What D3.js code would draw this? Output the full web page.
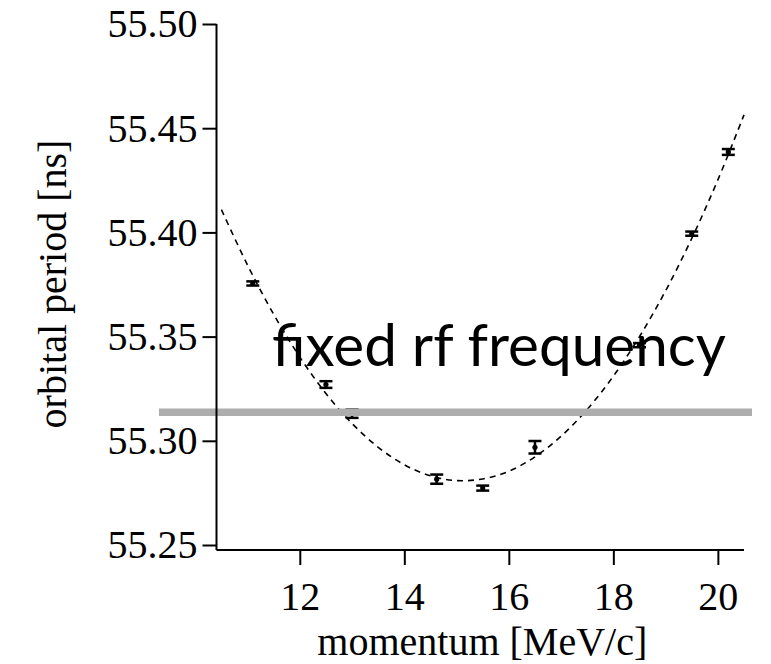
<!DOCTYPE html>
<html>
<head>
<meta charset="utf-8">
<script src="https://cdn.jsdelivr.net/npm/d3@7"></script>
<style>
  html, body { margin: 0; padding: 0; background: #fff; }
  svg { display: block; }
</style>
</head>
<body>
<svg id="chart" width="771" height="664"></svg>
<script>
// ---- data ----
const momentum    = [11.1, 12.5, 13.0, 14.62, 15.5, 16.5, 18.5, 19.5, 20.2];
const period      = [55.3755, 55.327, 55.313, 55.2816, 55.2773, 55.2969, 55.3459, 55.3994, 55.4386];
const periodErr   = [0.0010, 0.0016, 0.0020, 0.0022, 0.0012, 0.0030, 0.0010, 0.0010, 0.0014];

const fitMomentum = [10.5, 11.0, 11.5, 12.0, 12.5, 13.0, 13.5, 14.0, 14.5, 15.0, 15.5,
                     16.0, 16.5, 17.0, 17.5, 18.0, 18.5, 19.0, 19.5, 20.0, 20.5];
const fitPeriod   = [55.4109, 55.3843, 55.3607, 55.3402, 55.3227, 55.3083, 55.2969, 55.2885,
                     55.2832, 55.2809, 55.2817, 55.2854, 55.2923, 55.3022, 55.3151, 55.3310,
                     55.3500, 55.3720, 55.3971, 55.4252, 55.4564];

const rfPeriod    = 55.3137;
const rfLabel     = "fixed rf frequency";

const xTicks      = [12, 14, 16, 18, 20];
const yTicks      = [55.25, 55.30, 55.35, 55.40, 55.45, 55.50];
const xTitle      = "momentum [MeV/c]";
const yTitle      = "orbital period [ns]";

// ---- layout ----
const svg = d3.select("#chart");
const x = d3.scaleLinear().domain([10.406, 20.5]).range([216.5, 744]);
const y = d3.scaleLinear().domain([55.2476, 55.50]).range([550, 24]);
const serif = "'Liberation Serif', 'Times New Roman', serif";

// label text
const lab = svg.append("text")
  .attr("x", 272).attr("y", 366)
  .attr("font-family", "Lato, 'Open Sans', sans-serif")
  .attr("font-size", 60)
  .attr("fill", "#000")
  .text(rfLabel);
const len = lab.node().getComputedTextLength();
lab.attr("font-size", 60 * 454 / len);

// fit curve
const fit = fitMomentum.map((m, i) => [m, fitPeriod[i]]);
svg.append("path")
  .datum(fit)
  .attr("d", d3.line().x(d => x(d[0])).y(d => y(d[1])).curve(d3.curveCatmullRom))
  .attr("fill", "none")
  .attr("stroke", "#000")
  .attr("stroke-width", 1.6)
  .attr("stroke-dasharray", "6,5");

// data with error bars
const pts = momentum.map((m, i) => ({m, p: period[i], e: periodErr[i]}));
const g = svg.append("g");
const capW = 6.5;
pts.forEach(d => {
  const cx = x(d.m);
  g.append("line").attr("x1", cx).attr("x2", cx)
    .attr("y1", y(d.p - d.e)).attr("y2", y(d.p + d.e))
    .attr("stroke", "#000").attr("stroke-width", 2.5);
  [d.p - d.e, d.p + d.e].forEach(v => {
    g.append("line").attr("x1", cx - capW).attr("x2", cx + capW)
      .attr("y1", y(v)).attr("y2", y(v))
      .attr("stroke", "#000").attr("stroke-width", 2.5);
  });
  g.append("circle").attr("cx", cx).attr("cy", y(d.p)).attr("r", 2.6).attr("fill", "#000");
});

// rf line
svg.append("line")
  .attr("x1", 159).attr("x2", 752)
  .attr("y1", y(rfPeriod)).attr("y2", y(rfPeriod))
  .attr("stroke", "#adadad").attr("stroke-width", 7.5);

// axes
const yAxis = svg.append("g").attr("transform", "translate(216.5,0)")
  .call(d3.axisLeft(y).tickValues(yTicks).tickFormat(d3.format(".2f")).tickSize(14).tickPadding(5));
const xAxis = svg.append("g").attr("transform", "translate(0,550)")
  .call(d3.axisBottom(x).tickValues(xTicks).tickFormat(d3.format("d")).tickSize(15).tickPadding(17));
[yAxis, xAxis].forEach(a => {
  a.select(".domain").attr("stroke", "#000").attr("stroke-width", 2);
  a.selectAll(".tick line").attr("stroke", "#000").attr("stroke-width", 2);
  a.selectAll(".tick text").attr("font-family", serif).attr("font-size", 40).attr("fill", "#000");
});
yAxis.select(".domain").attr("d", "M-0,24V550");
xAxis.select(".domain").attr("d", "M216.5,0H744");

// titles
svg.append("text")
  .attr("x", (216.5 + 744) / 2 + 2).attr("y", 655)
  .attr("text-anchor", "middle")
  .attr("font-family", serif).attr("font-size", 40)
  .text(xTitle);
svg.append("text")
  .attr("transform", "translate(66,284) rotate(-90)")
  .attr("text-anchor", "middle")
  .attr("font-family", serif).attr("font-size", 40)
  .text(yTitle);
</script>
</body>
</html>
